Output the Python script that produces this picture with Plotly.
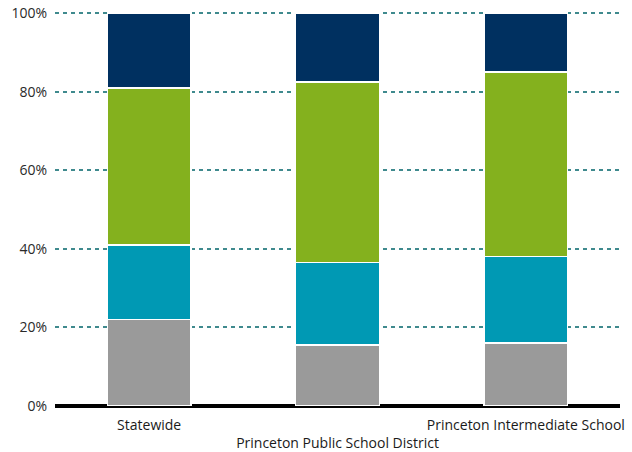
import plotly.graph_objects as go

categories = ["Statewide", "Princeton Public School District", "Princeton Intermediate School"]
tick_labels = ["Statewide", "<br>Princeton Public School District", "Princeton Intermediate School"]
gray_vals = [22, 15.5, 16]
teal_vals = [19, 21, 22]
green_vals = [40, 46, 47]
navy_vals = [19, 17.5, 15]

series = [
    ("Level 1", gray_vals, "#9a9a9a"),
    ("Level 2", teal_vals, "#0099b4"),
    ("Level 3", green_vals, "#84b11e"),
    ("Level 4", navy_vals, "#003060"),
]

fig = go.Figure()
for name, vals, col in series:
    fig.add_trace(go.Bar(
        x=categories, y=vals, name=name,
        marker=dict(color=col, line=dict(color="white", width=1.5)),
        width=0.445,
    ))

fig.update_layout(
    barmode="stack",
    width=632, height=452,
    margin=dict(l=55, r=12, t=12, b=46, autoexpand=False),
    paper_bgcolor="white", plot_bgcolor="white",
    showlegend=False,
    font=dict(family="Open Sans, Noto Sans, sans-serif", size=14, color="#1a1a1a"),
    xaxis=dict(
        tickmode="array", tickvals=categories, ticktext=tick_labels,
        showline=False, showgrid=False, zeroline=False, ticks="",
        tickfont=dict(size=14, color="#1a1a1a"), automargin=False,
        ticklabelstandoff=9, tickangle=0,
    ),
    yaxis=dict(
        range=[0, 100.3], tickvals=[0, 20, 40, 60, 80, 100],
        ticktext=["0%", "20%", "40%", "60%", "80%", "100%"],
        showgrid=True, gridcolor="#3f8a8e", gridwidth=1.5, griddash="4px,4px",
        zeroline=True, zerolinecolor="black", zerolinewidth=4,
        showline=False, ticks="", ticklabelstandoff=7, automargin=False,
        tickfont=dict(size=14, color="#2a2a2a"),
    ),
)

fig.write_html("out.html")
